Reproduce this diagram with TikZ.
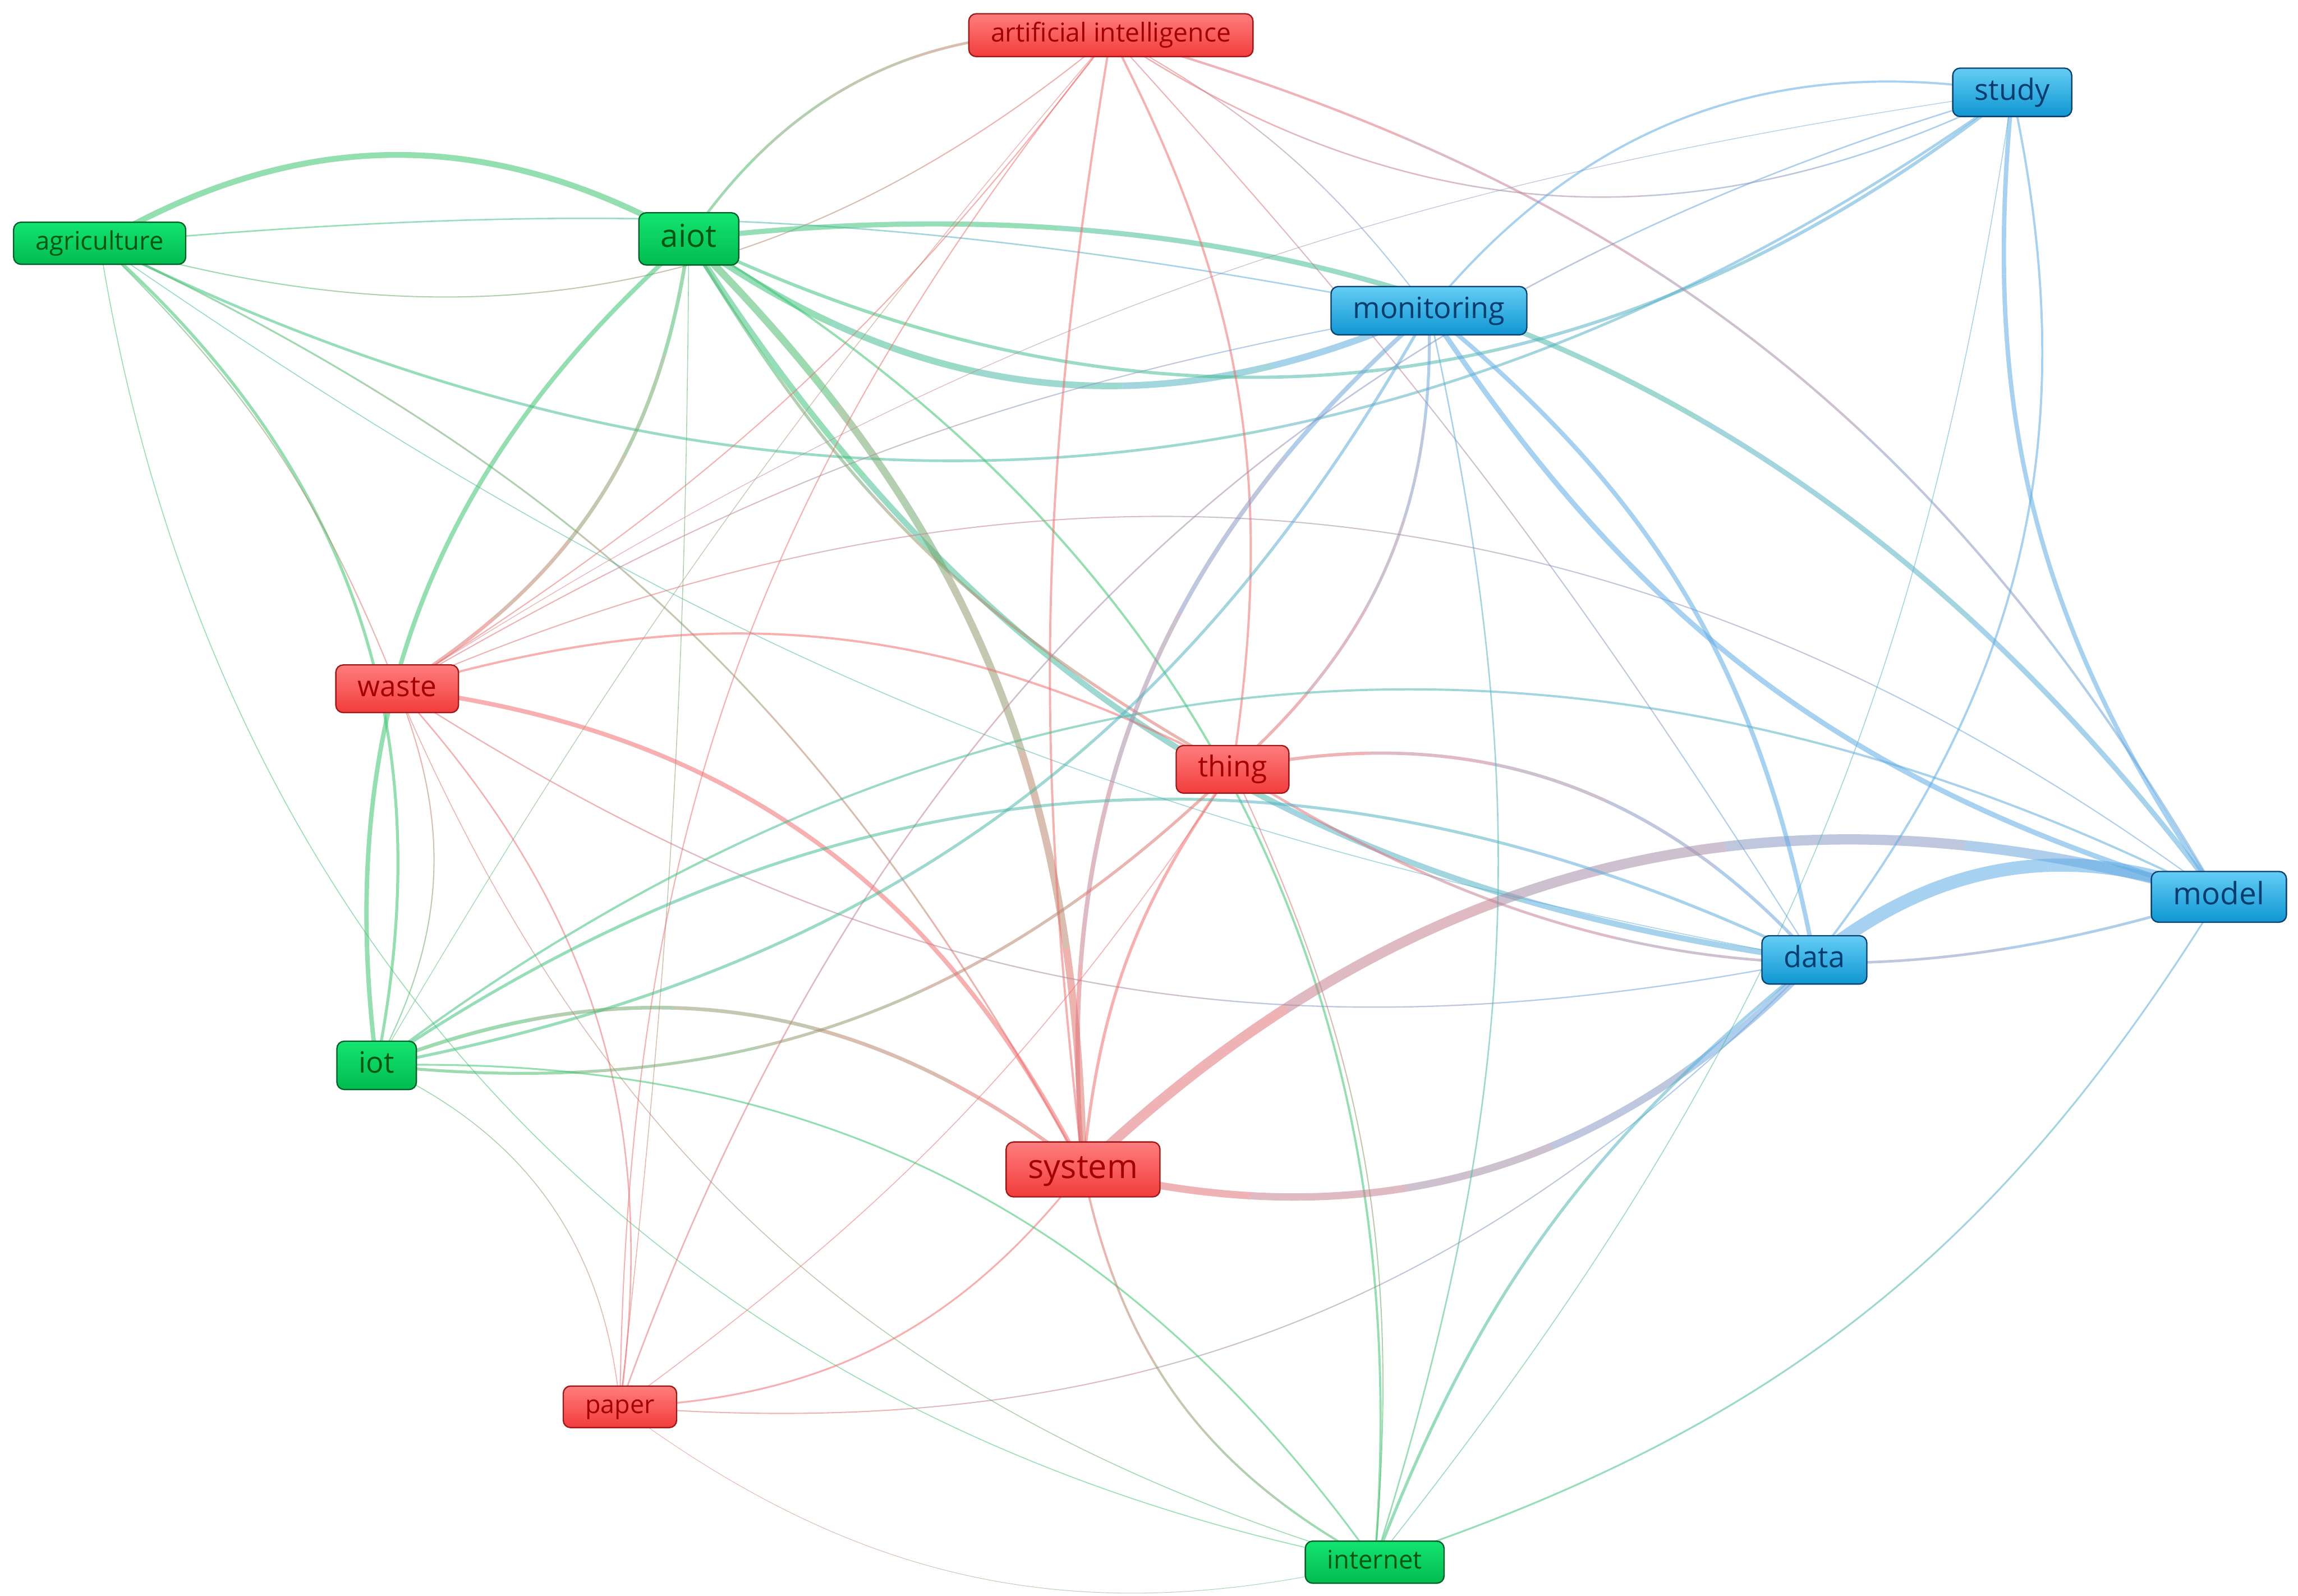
\documentclass[tikz,border=0pt]{standalone}
\usepackage{fontspec}
\setmainfont{Open Sans}
\usetikzlibrary{positioning,calc}
\definecolor{rtop}{RGB}{255,125,125}
\definecolor{rbot}{RGB}{242,60,60}
\definecolor{rline}{RGB}{160,25,25}
\definecolor{rtext}{RGB}{165,0,0}
\definecolor{gtop}{RGB}{20,228,112}
\definecolor{gbot}{RGB}{0,188,78}
\definecolor{gline}{RGB}{0,95,40}
\definecolor{gtext}{RGB}{0,85,20}
\definecolor{btop}{RGB}{100,205,245}
\definecolor{bbot}{RGB}{15,150,210}
\definecolor{bline}{RGB}{10,65,110}
\definecolor{btext}{RGB}{0,60,110}
\definecolor{eg}{RGB}{60,196,112}
\definecolor{er}{RGB}{240,110,110}
\definecolor{eb}{RGB}{95,172,230}
\pgfdeclarelayer{bg}
\pgfsetlayers{bg,main}
\tikzset{
  kw/.style={rounded corners=5pt, line width=0.9pt, inner xsep=15pt, inner ysep=0pt,
    font=\fontsize{#1}{#1}\selectfont, minimum height={1.65*#1pt},
    execute at begin node={\vphantom{lg}}},
  redkw/.style={kw=#1, draw=rline, top color=rtop, bottom color=rbot, text=rtext},
  greenkw/.style={kw=#1, draw=gline, top color=gtop, bottom color=gbot, text=gtext},
  bluekw/.style={kw=#1, draw=bline, top color=btop, bottom color=bbot, text=btext},
  link/.style={draw opacity=0.55, line cap=butt}
}
\begin{document}
\begin{tikzpicture}[x=1pt,y=-1pt]
\useasboundingbox (0,0) rectangle (1568,1089);
% keywords
\node[redkw=17.7]   (ai)    at (758,24)   {artificial intelligence};
\node[bluekw=20]    (study) at (1373,63)  {study};
\node[greenkw=17.4] (agri)  at (68,166)   {agriculture};
\node[greenkw=21.6] (aiot)  at (470,163)  {aiot};
\node[bluekw=20]    (mon)   at (975,212)  {monitoring};
\node[redkw=19.7]   (waste) at (271,470)  {waste};
\node[redkw=19.7]   (thing) at (841,525)  {thing};
\node[bluekw=21]    (model) at (1514,612) {model};
\node[bluekw=20]    (data)  at (1238,655) {data};
\node[greenkw=20]   (iot)   at (257,727)  {iot};
\node[redkw=22.7]   (sys)   at (739,798)  {system};
\node[redkw=17.2]   (paper) at (423,960)  {paper};
\node[greenkw=17.4] (inet)  at (938,1066) {internet};
% co-occurrence links, coloured from one cluster to the other
\begin{pgfonlayer}{bg}
\foreach \a/\b/\bend/\w/\ca/\cb in {
  agri/aiot/30/4/eg/eg, agri/mon/8/1/eg/eb, agri/study/-31/1.8/eg/eb,
  agri/iot/30/2/eg/eg, agri/waste/12/0.8/eg/er, agri/sys/18/1.2/eg/er,
  agri/inet/-35/0.6/eg/eg, agri/data/-12/0.6/eg/eb, agri/ai/-28/0.8/eg/er,
  aiot/ai/30/1.8/eg/er, aiot/mon/-30/4.5/eg/eb, aiot/study/-32/2.2/eg/eb,
  aiot/model/30/3.5/eg/eb, aiot/data/-25/4/eg/eb, aiot/sys/22/5/eg/er,
  aiot/thing/-15/2/eg/er, aiot/waste/25/2.5/eg/er, aiot/iot/-28/3/eg/eg,
  aiot/inet/32/1.5/eg/eg, aiot/paper/3/0.6/eg/er,
  ai/study/-30/1/er/eb, ai/model/22/1.6/er/eb, ai/mon/12/0.8/er/eb,
  ai/thing/18/1.5/er/er, ai/sys/-8/1.5/er/er, ai/waste/10/0.8/er/er,
  ai/paper/-19/0.8/er/er, ai/iot/-5/0.5/er/eg, ai/data/5/0.8/er/eb,
  waste/sys/28/3/er/er, waste/thing/22/1.5/er/er, waste/paper/25/1/er/er,
  waste/model/30/0.8/er/eb, waste/data/-22/0.9/er/eb, waste/mon/10/0.8/er/eb,
  waste/study/12/0.5/er/eb,
  thing/sys/-15/2/er/er, thing/paper/10/0.6/er/er, sys/paper/25/1.2/er/er,
  thing/model/-25/1.8/er/eb, thing/data/30/2.2/er/eb, thing/mon/-25/2/er/eb,
  sys/model/30/7/er/eb, sys/data/-30/5/er/eb, sys/mon/27/3/er/eb,
  paper/study/27/1/er/eb, paper/data/-25/0.8/er/eb,
  iot/data/30/2/eg/eb, iot/model/32/1.5/eg/eb, iot/mon/-25/2/eg/eb,
  inet/data/15/2/eg/eb, inet/model/-20/1.2/eg/eb, inet/mon/-15/1/eg/eb,
  inet/study/-15/0.6/eg/eb,
  iot/inet/28/1.2/eg/eg, iot/sys/30/2.5/eg/er, iot/thing/-25/2/eg/er,
  iot/waste/-25/0.8/eg/er, iot/paper/30/0.6/eg/er,
  sys/inet/-25/1.5/er/eg, thing/inet/15/0.8/er/eg, waste/inet/-25/0.6/er/eg,
  paper/inet/-25/0.4/er/eg,
  study/mon/-30/1.5/eb/eb, study/model/-20/3/eb/eb, study/data/25/1.5/eb/eb,
  mon/data/20/3/eb/eb, mon/model/-20/3.5/eb/eb, data/model/30/9/eb/eb}{
  \pgfmathsetmacro\nbend{-\bend}
  \coordinate (p) at (\a.center);
  \coordinate (q) at (\b.center);
  \coordinate (cp) at ($(p)!0.39!\bend:(q)$);
  \coordinate (cq) at ($(q)!0.39!\nbend:(p)$);
  \foreach \k in {0,...,4}{
    \pgfmathsetmacro\ta{\k/5}
    \pgfmathsetmacro\tb{(\k+1)/5}
    \pgfmathtruncatemacro\mix{90-\k*20}
    \path[link, line width=\w pt, draw=\ca!\mix!\cb]
      \pgfextra{\pgfpathcurvebetweentime{\ta}{\tb}{\pgfpointanchor{p}{center}}%
        {\pgfpointanchor{cp}{center}}{\pgfpointanchor{cq}{center}}{\pgfpointanchor{q}{center}}};
  }
}
\end{pgfonlayer}
\end{tikzpicture}
\end{document}
